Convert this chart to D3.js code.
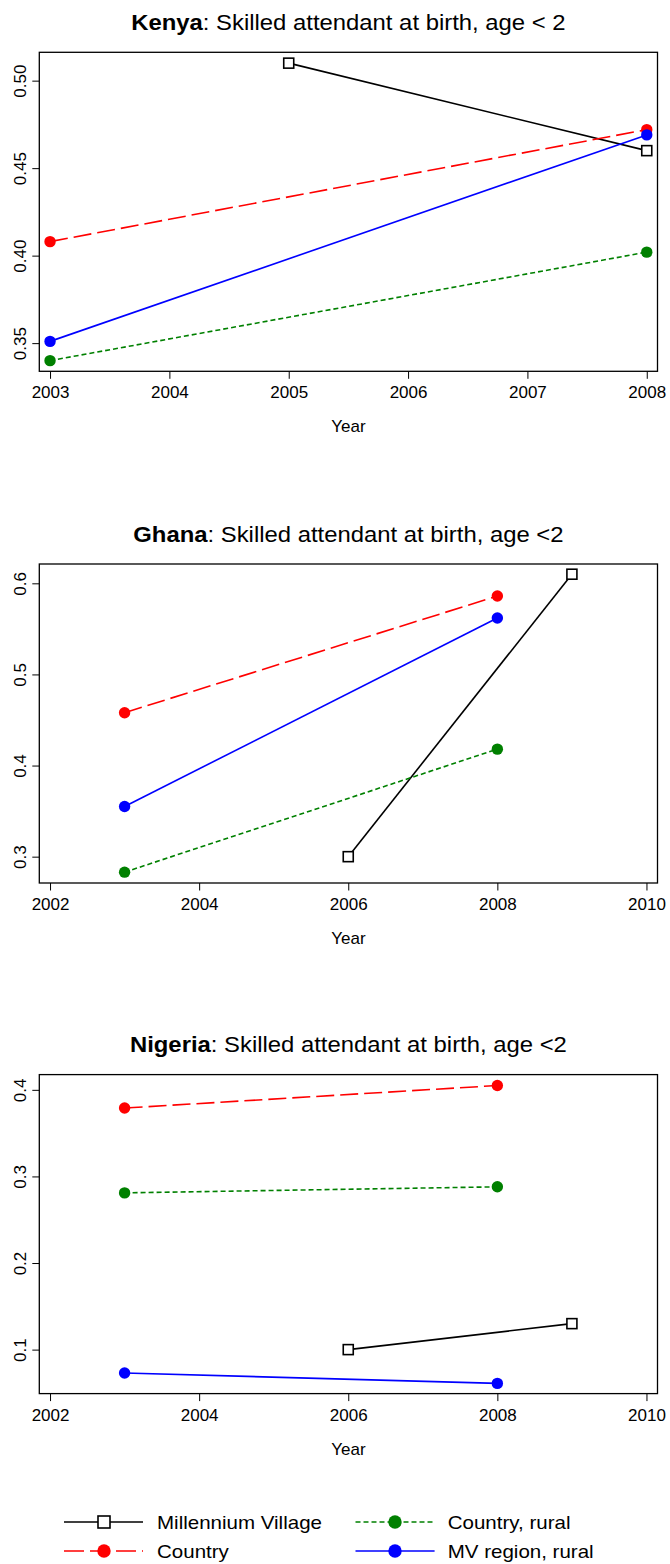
<!DOCTYPE html>
<html><head><meta charset="utf-8">
<script src="https://cdn.jsdelivr.net/npm/d3@7"></script>
<style>
html,body{margin:0;padding:0;background:#fff;}
svg{display:block;font-family:"Liberation Sans",Arial,Helvetica,sans-serif;}
</style></head><body>
<svg id="chart" width="670" height="1564"></svg>
<script>
// ---------- data ----------
const countries = ["Kenya", "Ghana", "Nigeria"];
const titleTexts = [": Skilled attendant at birth, age < 2", ": Skilled attendant at birth, age <2", ": Skilled attendant at birth, age <2"];
const seriesNames = ["Millennium Village", "Country", "Country, rural", "MV region, rural"];
const seriesColors = ["#000000", "#FF0000", "#008000", "#0000FF"];
const seriesDashes = ["none", "18,6", "5,3", "none"];
const seriesMarkers = ["square", "circle", "circle", "circle"];

const surveyYears = [2003, 2008];
const kenyaMVYears = [2005, 2008];
const kenyaMV = [0.510, 0.460];
const kenyaCountry = [0.408, 0.472];
const kenyaRural = [0.340, 0.402];
const kenyaMVRegion = [0.351, 0.469];

const ghanaMVYears = [2006, 2009];
const ghanaMV = [0.300, 0.610];
const ghanaCountry = [0.458, 0.586];
const ghanaRural = [0.283, 0.418];
const ghanaMVRegion = [0.355, 0.562];

const nigeriaMVYears = [2006, 2009];
const nigeriaMV = [0.100, 0.130];
const nigeriaCountry = [0.379, 0.405];
const nigeriaRural = [0.281, 0.288];
const nigeriaMVRegion = [0.073, 0.061];

const kenyaXTicks = [2003, 2004, 2005, 2006, 2007, 2008];
const westXTicks = [2002, 2004, 2006, 2008, 2010];
const kenyaYTicks = [0.35, 0.40, 0.45, 0.50];
const ghanaYTicks = [0.3, 0.4, 0.5, 0.6];
const nigeriaYTicks = [0.1, 0.2, 0.3, 0.4];
const kenyaXLim = [2002.91, 2008.09];
const westXLim = [2001.856, 2010.148];
const kenyaYLim = [0.3339, 0.5162];
const ghanaYLim = [0.2711, 0.6212];
const nigeriaYLim = [0.0492, 0.4176];

// ---------- assemble ----------
const panels = [
  {name: countries[0], title: titleTexts[0], xLim: kenyaXLim, yLim: kenyaYLim, xTicks: kenyaXTicks, yTicks: kenyaYTicks, yFmt: ".2f",
   series: [[kenyaMVYears, kenyaMV], [surveyYears, kenyaCountry], [surveyYears, kenyaRural], [surveyYears, kenyaMVRegion]]},
  {name: countries[1], title: titleTexts[1], xLim: westXLim, yLim: ghanaYLim, xTicks: westXTicks, yTicks: ghanaYTicks, yFmt: ".1f",
   series: [[ghanaMVYears, ghanaMV], [surveyYears, ghanaCountry], [surveyYears, ghanaRural], [surveyYears, ghanaMVRegion]]},
  {name: countries[2], title: titleTexts[2], xLim: westXLim, yLim: nigeriaYLim, xTicks: westXTicks, yTicks: nigeriaYTicks, yFmt: ".1f",
   series: [[nigeriaMVYears, nigeriaMV], [surveyYears, nigeriaCountry], [surveyYears, nigeriaRural], [surveyYears, nigeriaMVRegion]]}
];

const svg = d3.select("#chart");
const L = 39.3, R = 657.5, H = 319;
const tops = [52.3, 564, 1074.6];
const FS = 17;

function drawMarker(g, type, cx, cy, color, size) {
  if (type === "square") {
    g.append("rect").attr("x", cx - size / 2).attr("y", cy - size / 2)
      .attr("width", size).attr("height", size)
      .attr("fill", "#fff").attr("stroke", "#000").attr("stroke-width", 1.6);
  } else {
    g.append("circle").attr("cx", cx).attr("cy", cy).attr("r", size / 2 + 0.7)
      .attr("fill", color).attr("stroke", "none");
  }
}

panels.forEach((p, i) => {
  const top = tops[i];
  const x = d3.scaleLinear().domain(p.xLim).range([L, R]);
  const y = d3.scaleLinear().domain(p.yLim).range([top + H, top]);
  const g = svg.append("g");

  // title
  const t = g.append("text")
    .attr("transform", `translate(${(L + R) / 2},${top - 22.5}) scale(1.11,1)`)
    .attr("text-anchor", "middle").attr("font-size", 21.5).attr("fill", "#000");
  t.append("tspan").attr("font-weight", "bold").text(p.name);
  t.append("tspan").text(p.title);

  // x axis
  const xa = g.append("g").attr("transform", `translate(0,${top + H})`)
    .call(d3.axisBottom(x).tickValues(p.xTicks).tickFormat(d3.format("d"))
      .tickSize(7.5).tickSizeOuter(0).tickPadding(7.5));
  xa.select(".domain").remove();
  xa.selectAll(".tick line").attr("stroke", "#000");
  xa.selectAll(".tick text").attr("font-size", FS).attr("fill", "#000")
    .attr("font-family", '"Liberation Sans",Arial,sans-serif');

  // y axis
  const ya = g.append("g").attr("transform", `translate(${L},0)`)
    .call(d3.axisLeft(y).tickValues(p.yTicks).tickFormat(d3.format(p.yFmt))
      .tickSize(7).tickSizeOuter(0));
  ya.select(".domain").remove();
  ya.selectAll(".tick line").attr("stroke", "#000");
  ya.selectAll(".tick text").attr("font-size", FS).attr("fill", "#000")
    .attr("font-family", '"Liberation Sans",Arial,sans-serif')
    .attr("x", null).attr("dy", null).attr("y", null)
    .attr("text-anchor", "middle")
    .attr("transform", "translate(-13.3,0) rotate(-90)");

  // x label
  g.append("text").attr("x", (L + R) / 2).attr("y", top + H + 61)
    .attr("text-anchor", "middle").attr("font-size", FS).attr("fill", "#000").text("Year");

  // series
  p.series.forEach((s, k) => {
    const pts = s[0].map((yr, j) => [yr, s[1][j]]);
    g.append("path").datum(pts)
      .attr("d", d3.line().x(d => x(d[0])).y(d => y(d[1])))
      .attr("fill", "none").attr("stroke", seriesColors[k]).attr("stroke-width", 1.6)
      .attr("stroke-dasharray", seriesDashes[k]);
    pts.forEach(d => drawMarker(g, seriesMarkers[k], x(d[0]), y(d[1]), seriesColors[k], 10));
  });

  // box
  g.append("rect").attr("x", L).attr("y", top).attr("width", R - L).attr("height", H)
    .attr("fill", "none").attr("stroke", "#000").attr("stroke-width", 1.3);
});

// legend
const legRows = [1522, 1551];
const legCols = [{x0: 64, x1: 143, m: 104, tx: 157}, {x0: 355.5, x1: 434.6, m: 395, tx: 447.7}];
const legDashes = ["none", "20,6", "5,3", "none"];
const lg = svg.append("g");
seriesNames.forEach((name, k) => {
  const c = legCols[Math.floor(k / 2)];
  const yy = legRows[k % 2];
  lg.append("line").attr("x1", c.x0).attr("x2", c.x1).attr("y1", yy).attr("y2", yy)
    .attr("stroke", seriesColors[k]).attr("stroke-width", 1.5)
    .attr("stroke-dasharray", legDashes[k]);
  drawMarker(lg, seriesMarkers[k], c.m, yy, seriesColors[k], 12);
  lg.append("text").attr("transform", `translate(${c.tx},${yy + 6.5}) scale(1.14,1)`)
    .attr("font-size", 18).attr("fill", "#000").text(name);
});
</script>
</body></html>
